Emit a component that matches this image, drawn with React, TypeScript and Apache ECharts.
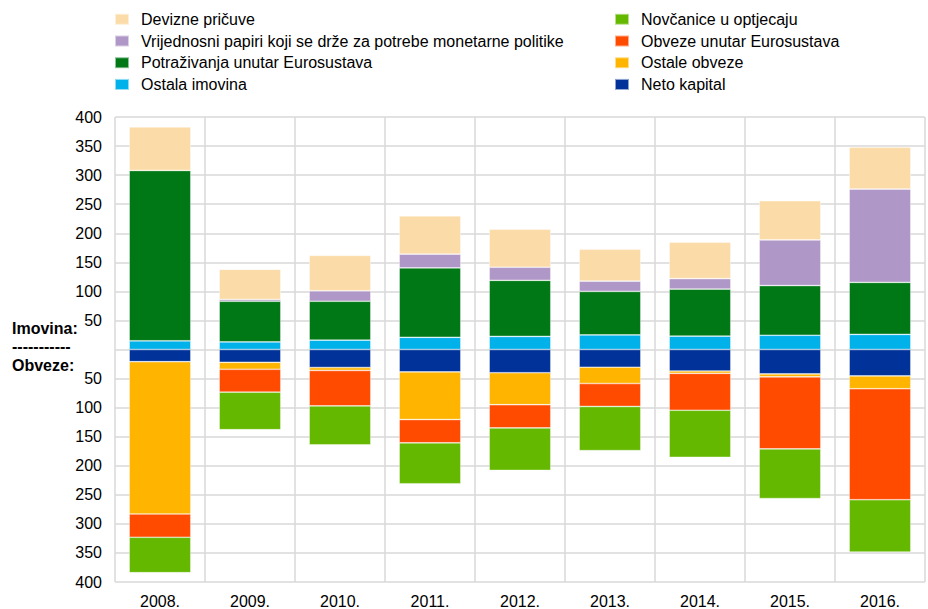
import React, { useEffect, useRef } from "react";
import * as echarts from "echarts";

const categories = ["2008.", "2009.", "2010.", "2011.", "2012.", "2013.", "2014.", "2015.", "2016."];

// Assets (Imovina)
const deviznePricuve = [75, 52, 61, 66, 65.5, 55, 62.5, 67.5, 72];
const vrijednosniPapiri = [0, 3, 18, 23.5, 22.5, 17.5, 18, 78.5, 160.5];
const potrazivanja = [293, 70, 67, 119.5, 96.5, 75, 81, 85.5, 89.5];
const ostalaImovina = [15, 13, 16, 21, 22.5, 25, 23, 24.5, 26];

// Liabilities (Obveze)
const novcanice = [61, 64.5, 67, 70.5, 73, 76, 81, 85.5, 90];
const obvezeUnutar = [40, 39.5, 61, 40, 40, 39.5, 63.5, 124, 191];
const ostaleObveze = [262, 12, 5, 82, 55, 28, 4, 5, 22];
const netoKapital = [21, 22, 31, 38.5, 40, 30.5, 37, 42, 45.5];

const FONT = "Liberation Sans, Arial, sans-serif";

export default function App() {
  const ref = useRef<HTMLDivElement>(null);

  useEffect(() => {
    if (!ref.current) return;
    const chart = echarts.init(ref.current, undefined, { renderer: "svg" });

    const border = { borderColor: "rgba(255,255,255,0.55)", borderWidth: 0.7 };
    const mk = (name: string, data: number[], color: string, neg: boolean) => ({
      name,
      type: "bar",
      stack: "total",
      barWidth: "68.5%",
      data: neg ? data.map((v) => -v) : data,
      itemStyle: { color, ...border },
      emphasis: { disabled: true },
    });

    const series = [
      mk("Ostala imovina", ostalaImovina, "#00B1EA", false),
      mk("Potraživanja unutar Eurosustava", potrazivanja, "#007816", false),
      mk("Vrijednosni papiri koji se drže za potrebe monetarne politike", vrijednosniPapiri, "#AF97C7", false),
      mk("Devizne pričuve", deviznePricuve, "#FBDCA8", false),
      mk("Neto kapital", netoKapital, "#003299", true),
      mk("Ostale obveze", ostaleObveze, "#FFB400", true),
      mk("Obveze unutar Eurosustava", obvezeUnutar, "#FF4B00", true),
      mk("Novčanice u optjecaju", novcanice, "#65B800", true),
    ];

    const legendCommon = {
      orient: "vertical",
      top: 11.3,
      padding: 0,
      itemWidth: 14,
      itemHeight: 11,
      itemGap: 5.7,
      icon: "rect",
      selectedMode: false,
      textStyle: {
        fontFamily: FONT,
        fontSize: 16,
        lineHeight: 16,
        color: "#000",
        padding: [0, 0, 0, 7],
      },
    };

    chart.setOption({
      animation: false,
      textStyle: { fontFamily: FONT },
      legend: [
        {
          ...legendCommon,
          left: 114,
          data: [
            "Devizne pričuve",
            "Vrijednosni papiri koji se drže za potrebe monetarne politike",
            "Potraživanja unutar Eurosustava",
            "Ostala imovina",
          ],
        },
        {
          ...legendCommon,
          left: 614,
          data: ["Novčanice u optjecaju", "Obveze unutar Eurosustava", "Ostale obveze", "Neto kapital"],
        },
      ],
      grid: { left: 115, right: 3, top: 117, bottom: 27, containLabel: false },
      xAxis: {
        type: "category",
        data: categories,
        axisLine: { show: false },
        axisTick: { show: false },
        splitLine: { show: true, lineStyle: { color: "#d9d9d9", width: 1.5 } },
        axisLabel: { fontFamily: FONT, fontSize: 16, color: "#000", margin: 11 },
      },
      yAxis: {
        type: "value",
        min: -400,
        max: 400,
        interval: 50,
        axisLine: { show: false },
        axisTick: { show: false },
        splitLine: { show: true, lineStyle: { color: "#d9d9d9", width: 1.5 } },
        axisLabel: {
          fontFamily: FONT,
          fontSize: 16,
          color: "#000",
          margin: 13,
          formatter: (v: number) => (v === 0 ? "" : String(Math.abs(v))),
        },
      },
      graphic: [
        {
          type: "text",
          left: 12,
          top: 320,
          style: { text: "Imovina:", font: `bold 16px ${FONT}`, fill: "#000" },
        },
        {
          type: "text",
          left: 12,
          top: 338,
          style: { text: "-----------", font: `bold 16px ${FONT}`, fill: "#000" },
        },
        {
          type: "text",
          left: 12,
          top: 357,
          style: { text: "Obveze:", font: `bold 16px ${FONT}`, fill: "#000" },
        },
      ],
      series,
    });

    return () => chart.dispose();
  }, []);

  return (
    <div
      ref={ref}
      style={{ position: "fixed", left: 0, top: 0, width: 928, height: 609, background: "#fff" }}
    />
  );
}
